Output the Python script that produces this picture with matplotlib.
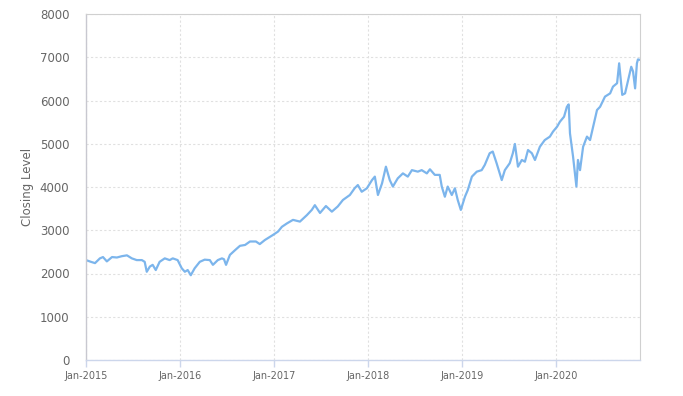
import matplotlib
matplotlib.use("Agg")
import matplotlib.pyplot as plt
import matplotlib.dates as mdates
import pandas as pd

dates = [
    "2015-01-01", "2015-01-20", "2015-02-05", "2015-02-24", "2015-03-08", "2015-03-23",
    "2015-04-12", "2015-05-01", "2015-05-20", "2015-06-09", "2015-06-28", "2015-07-17",
    "2015-08-06", "2015-08-17", "2015-08-25", "2015-09-06", "2015-09-17", "2015-09-29",
    "2015-10-14", "2015-11-03", "2015-11-22", "2015-12-04", "2015-12-23",
    "2016-01-08", "2016-01-20", "2016-01-31", "2016-02-12", "2016-02-27", "2016-03-18",
    "2016-04-06", "2016-04-26", "2016-05-08", "2016-05-27", "2016-06-12", "2016-06-20",
    "2016-06-28", "2016-07-13", "2016-08-02", "2016-08-21", "2016-09-10", "2016-09-29",
    "2016-10-22", "2016-11-06", "2016-11-26", "2016-12-27",
    "2017-01-16", "2017-01-31", "2017-02-20", "2017-03-15", "2017-04-11", "2017-05-08",
    "2017-05-27", "2017-06-08", "2017-06-28", "2017-07-21", "2017-08-13", "2017-09-05",
    "2017-09-25", "2017-10-22", "2017-11-10", "2017-11-22", "2017-12-07", "2017-12-27",
    "2018-01-16", "2018-01-27", "2018-02-08", "2018-02-24", "2018-03-11", "2018-03-26",
    "2018-04-07", "2018-04-26", "2018-05-16", "2018-06-04", "2018-06-20", "2018-07-13",
    "2018-07-28", "2018-08-17", "2018-08-29", "2018-09-17", "2018-10-06", "2018-10-14",
    "2018-10-26", "2018-11-06", "2018-11-22", "2018-12-04", "2018-12-15", "2018-12-27",
    "2019-01-12", "2019-01-23", "2019-02-08", "2019-02-27", "2019-03-18", "2019-03-30",
    "2019-04-18", "2019-04-30", "2019-05-15", "2019-06-04", "2019-06-16", "2019-07-05",
    "2019-07-17", "2019-07-25", "2019-08-06", "2019-08-21", "2019-09-02", "2019-09-14",
    "2019-09-29", "2019-10-11", "2019-10-30", "2019-11-18", "2019-12-08", "2019-12-20",
    "2020-01-05", "2020-01-16", "2020-02-01", "2020-02-12", "2020-02-19", "2020-02-24",
    "2020-03-07", "2020-03-20", "2020-03-26", "2020-04-03", "2020-04-15", "2020-04-30",
    "2020-05-12", "2020-05-24", "2020-06-08", "2020-06-20", "2020-07-09", "2020-07-29",
    "2020-08-09", "2020-08-25", "2020-09-02", "2020-09-14", "2020-09-25", "2020-10-07",
    "2020-10-19", "2020-10-26", "2020-11-03", "2020-11-10", "2020-11-14", "2020-11-22",
]

closing = [
    2310, 2270, 2240, 2350, 2380, 2280,
    2380, 2370, 2400, 2420, 2350, 2310,
    2310, 2270, 2040, 2160, 2200, 2080,
    2270, 2350, 2310, 2350, 2310,
    2120, 2040, 2080, 1960, 2120, 2270,
    2320, 2310, 2200, 2310, 2350, 2330,
    2200, 2430, 2540, 2640, 2660, 2740,
    2740, 2680, 2775, 2890,
    2970, 3080, 3160, 3240, 3200, 3350,
    3470, 3580, 3400, 3560, 3430, 3550,
    3700, 3815, 3975, 4045, 3890, 3970,
    4160, 4240, 3815, 4085, 4470, 4160,
    4010, 4200, 4315, 4240, 4390, 4355,
    4390, 4315, 4410, 4280, 4280, 4010,
    3775, 4010, 3815, 3970, 3700, 3470,
    3775, 3930, 4240, 4355, 4390, 4510,
    4780, 4820, 4550, 4160, 4390, 4550,
    4780, 4995, 4470, 4625, 4585, 4855,
    4780, 4625, 4930, 5085, 5165, 5280,
    5395, 5510, 5625, 5855, 5910, 5240,
    4700, 4010, 4625, 4390, 4930, 5165,
    5085, 5395, 5780, 5855, 6090, 6165,
    6320, 6400, 6860, 6130, 6165, 6475,
    6780, 6670, 6280, 6860, 6950, 6940,
]

y_ticks = [0, 1000, 2000, 3000, 4000, 5000, 6000, 7000, 8000]
x_tick_labels = ["Jan-2015", "Jan-2016", "Jan-2017", "Jan-2018", "Jan-2019", "Jan-2020"]
y_label = "Closing Level"

x = pd.to_datetime(dates)
x_ticks = pd.to_datetime(["2015-01-01", "2016-01-01", "2017-01-01",
                          "2018-01-01", "2019-01-01", "2020-01-01"])

fig = plt.figure(figsize=(6.83, 3.96), dpi=100)
ax = fig.add_axes([86 / 683, 1 - 360 / 396, (640 - 86) / 683, (360 - 14) / 396])

ax.plot(x, closing, color="#7cb5ec", linewidth=1.6, solid_joinstyle="round")

ax.set_xlim(x[0], x[-1])
ax.set_ylim(0, 8000)
ax.set_yticks(y_ticks)
ax.set_yticklabels([str(v) for v in y_ticks])
ax.set_xticks(x_ticks)
ax.set_xticklabels(x_tick_labels)

ax.grid(True, color="#e0e0e0", linestyle=(0, (2, 2)), linewidth=0.8)
ax.set_axisbelow(True)

for side in ["top", "right"]:
    ax.spines[side].set_color("#d0d0d0")
    ax.spines[side].set_linewidth(0.8)
ax.spines["left"].set_color("#c8c8d0")
ax.spines["bottom"].set_color("#ccd6eb")
ax.spines["left"].set_linewidth(1.0)
ax.spines["bottom"].set_linewidth(1.0)

ax.tick_params(axis="y", length=0, pad=12, labelsize=8.5, labelcolor="#666666")
ax.tick_params(axis="x", length=5, width=1, color="#ccd6eb", pad=3,
               labelsize=7, labelcolor="#666666")

ax.set_ylabel(y_label, fontsize=8.5, color="#666666", labelpad=4)

fig.savefig("out.png", dpi=100)
